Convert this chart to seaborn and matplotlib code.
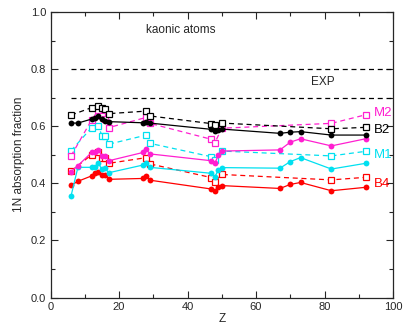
import matplotlib
matplotlib.use("Agg")
import matplotlib.pyplot as plt
import seaborn as sns
import numpy as np
import pandas as pd
from matplotlib.ticker import MultipleLocator

# ---- data ----
z_full = [6, 8, 12, 13, 14, 15, 16, 17, 27, 28, 29, 47, 48, 49, 50, 67, 70, 73, 82, 92]
b2_fit = [0.611, 0.611, 0.625, 0.630, 0.636, 0.625, 0.620, 0.616, 0.612, 0.614, 0.611,
          0.589, 0.582, 0.586, 0.590, 0.575, 0.579, 0.581, 0.569, 0.569]
m2_fit = [0.441, 0.462, 0.508, 0.508, 0.517, 0.496, 0.496, 0.479, 0.508, 0.519, 0.503,
          0.479, 0.470, 0.499, 0.513, 0.517, 0.544, 0.556, 0.531, 0.556]
m1_fit = [0.356, 0.456, 0.456, 0.458, 0.470, 0.449, 0.452, 0.437, 0.464, 0.472, 0.456,
          0.435, 0.423, 0.447, 0.455, 0.453, 0.476, 0.490, 0.450, 0.470]
b4_fit = [0.393, 0.407, 0.426, 0.435, 0.441, 0.429, 0.429, 0.414, 0.417, 0.426, 0.411,
          0.380, 0.374, 0.386, 0.392, 0.382, 0.396, 0.403, 0.374, 0.386]

z_sub = [6, 12, 14, 15, 16, 17, 28, 29, 47, 48, 50, 82, 92]
b2_sub = [0.639, 0.665, 0.671, 0.665, 0.659, 0.644, 0.653, 0.636, 0.609, 0.603, 0.611, 0.591, 0.596]
m2_sub = [0.496, 0.622, 0.657, 0.636, 0.624, 0.595, 0.631, 0.610, 0.554, 0.542, 0.593, 0.610, 0.640]
m1_sub = [0.514, 0.595, 0.601, 0.567, 0.567, 0.537, 0.569, 0.540, 0.493, 0.482, 0.513, 0.496, 0.512]
b4_sub = [0.443, 0.500, 0.510, 0.490, 0.490, 0.470, 0.490, 0.468, 0.420, 0.406, 0.431, 0.412, 0.421]

exp_levels = [0.8, 0.7]
exp_z = [6, 100]

labels = ["M2", "B2", "M1", "B4"]
label_y = [0.645, 0.587, 0.499, 0.398]

# ---- style ----
sns.set_style("ticks")
plt.rcParams["font.family"] = ["Liberation Sans", "DejaVu Sans"]

colors = {"B2": "#000000", "M2": "#ff1fd0", "M1": "#00e0f0", "B4": "#ff0000"}

fig = plt.figure(figsize=(4.05, 3.29), dpi=100)
ax = fig.add_axes([0.1247, 0.0957, 0.8457, 0.8678])

for lev in exp_levels:
    sns.lineplot(x=exp_z, y=[lev, lev], ax=ax, color="black", lw=0.9,
                 linestyle=(0, (4, 3)))

subs = {"B2": b2_sub, "M2": m2_sub, "M1": m1_sub, "B4": b4_sub}
fits = {"B2": b2_fit, "M2": m2_fit, "M1": m1_fit, "B4": b4_fit}

for key in ["B4", "M1", "M2", "B2"]:
    sns.lineplot(x=z_sub, y=subs[key], ax=ax, color=colors[key], lw=0.9,
                 linestyle=(0, (4, 3)), marker="s", markersize=4.3,
                 markerfacecolor="white", markeredgecolor=colors[key],
                 markeredgewidth=0.9, sort=False, estimator=None)
    sns.lineplot(x=z_full, y=fits[key], ax=ax, color=colors[key], lw=0.9,
                 marker="o", markersize=4.2, markeredgewidth=0,
                 markerfacecolor=colors[key], sort=False, estimator=None)

ax.set_xlim(0, 100)
ax.set_ylim(0, 1.0)
ax.xaxis.set_major_locator(MultipleLocator(20))
ax.xaxis.set_minor_locator(MultipleLocator(10))
ax.yaxis.set_major_locator(MultipleLocator(0.2))
ax.yaxis.set_minor_locator(MultipleLocator(0.1))
ax.set_xticklabels([])
ax.set_xticks([0, 20, 40, 60, 80, 100])
ax.set_xticklabels(["0", "20", "40", "60", "80", "100"])
ax.set_yticks([0, 0.2, 0.4, 0.6, 0.8, 1.0])
ax.set_yticklabels(["0.0", "0.2", "0.4", "0.6", "0.8", "1.0"])
ax.tick_params(which="both", direction="in", top=True, right=True,
               labelsize=8, width=0.8, pad=3)
ax.tick_params(which="major", length=5)
ax.tick_params(which="minor", length=3)
for s in ax.spines.values():
    s.set_linewidth(0.9)

ax.set_xlabel("Z", fontsize=8.5, labelpad=1)
ax.set_ylabel("1N absorption fraction", fontsize=8.5, labelpad=4)

ax.text(38, 0.937, "kaonic atoms", fontsize=8.5, ha="center", va="center")
ax.text(79.5, 0.755, "EXP", fontsize=8.5, ha="center", va="center")
for lab, yv in zip(labels, label_y):
    ax.text(94.3, yv, lab, fontsize=9.5, color=colors[lab], ha="left", va="center")

fig.savefig("out.png", dpi=100)
